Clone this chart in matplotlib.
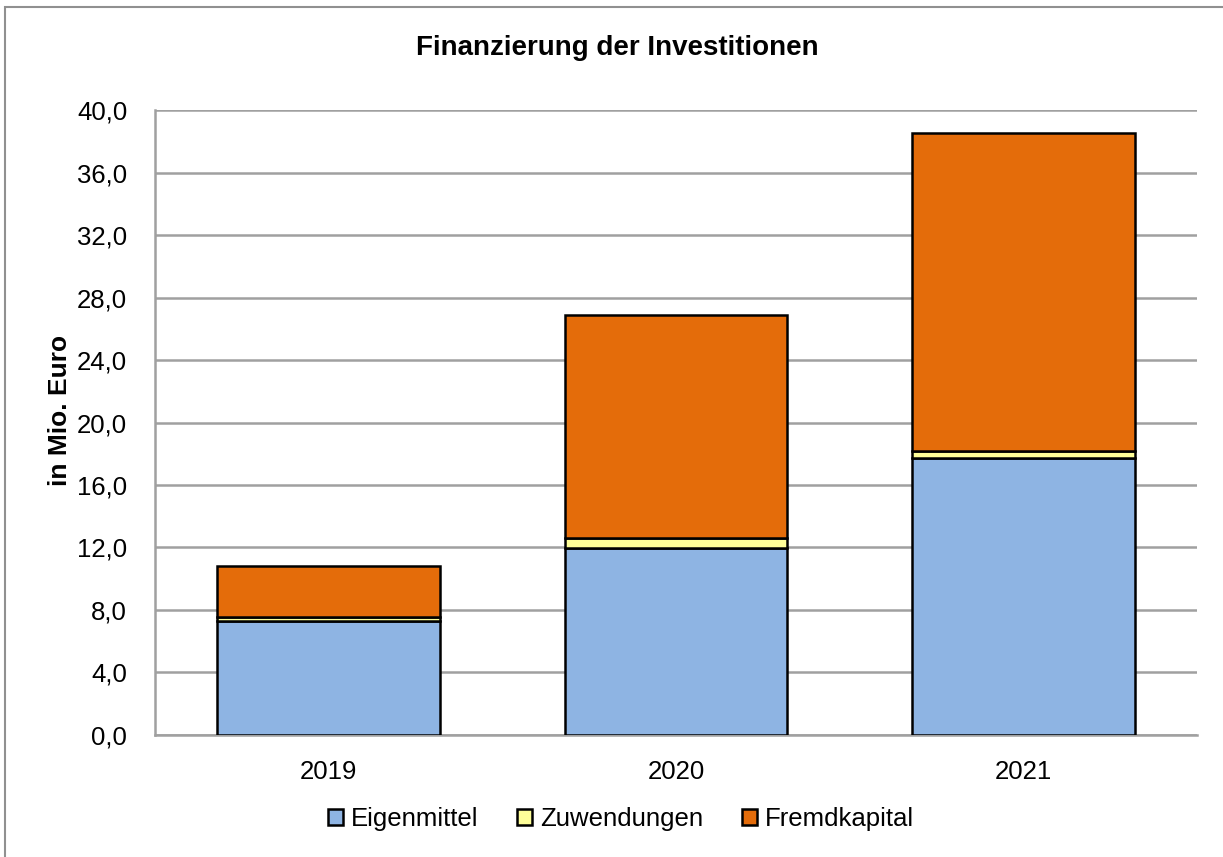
import matplotlib.pyplot as plt
from matplotlib.patches import Rectangle
import numpy as np

plt.rcParams['font.family'] = ['Liberation Sans', 'DejaVu Sans']

years = ['2019', '2020', '2021']
eigenmittel = [7.3, 11.95, 17.75]
zuwendungen = [0.25, 0.65, 0.45]
fremdkapital = [3.25, 14.3, 20.3]

labels = ['Eigenmittel', 'Zuwendungen', 'Fremdkapital']
colors = ['#8EB4E3', '#FFFF99', '#E46C0A']

fig = plt.figure(figsize=(12.23, 8.57), dpi=100)
ax = fig.add_axes([0.1267, 0.1424, 0.8521, 0.7292])

x = np.arange(len(years))
bottom = np.zeros(len(years))
for vals, lab, col in zip([eigenmittel, zuwendungen, fremdkapital], labels, colors):
    ax.bar(x, vals, 0.64, bottom=bottom, color=col, edgecolor='black',
           linewidth=1.8, label=lab, zorder=3)
    bottom += np.array(vals)

ax.set_xlim(-0.5, 2.5)
ax.set_ylim(0, 40)
ax.set_yticks(np.arange(0, 41, 4))
ax.set_yticklabels([f'{v:.1f}'.replace('.', ',') for v in np.arange(0, 41, 4)])
ax.set_xticks(x)
ax.set_xticklabels(years)
ax.tick_params(axis='both', length=0, labelsize=18.5, colors='black')
ax.tick_params(axis='y', pad=20)
ax.tick_params(axis='x', pad=18)

ax.grid(axis='y', color='#A0A0A0', linewidth=1.8, zorder=0)
for s in ['top', 'right']:
    ax.spines[s].set_visible(False)
ax.spines['left'].set_color('#A0A0A0')
ax.spines['left'].set_linewidth(1.8)
ax.spines['bottom'].set_color('#A0A0A0')
ax.spines['bottom'].set_linewidth(1.8)

ax.set_ylabel('in Mio. Euro', fontsize=19, fontweight='bold')
ax.yaxis.set_label_coords(-0.08, 0.52)
fig.text(0.505, 0.944, 'Finanzierung der Investitionen', ha='center', va='center',
         fontsize=20, fontweight='bold')

ax.legend(loc='center', bbox_to_anchor=(0.447, -0.135), ncol=3, frameon=False,
          fontsize=18.5, handlelength=0.6, handleheight=0.6, handletextpad=0.3,
          columnspacing=1.5)

fig.patches.append(Rectangle((0.004, -0.05), 1.2, 1.042, transform=fig.transFigure,
                             fill=False, edgecolor='#909090', linewidth=1.5))

fig.savefig('out.png', dpi=100)
